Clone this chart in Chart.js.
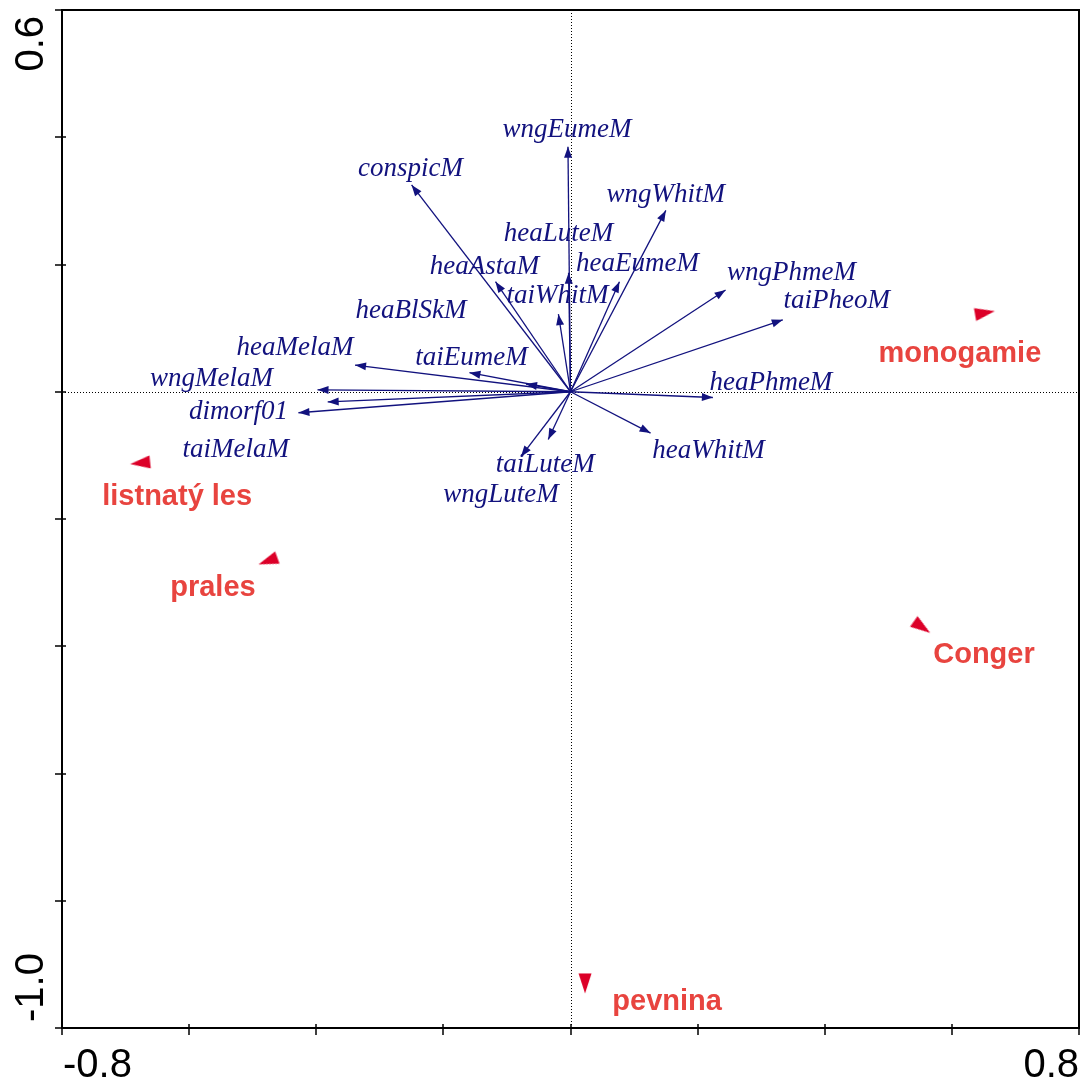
<!DOCTYPE html>
<html>
<head>
<meta charset="utf-8">
<script src="https://cdn.jsdelivr.net/npm/chart.js@4.4.1/dist/chart.umd.min.js"></script>
<style>
  html, body { margin: 0; padding: 0; background: #ffffff; overflow: hidden; }
  #biplot { display: block; }
</style>
</head>
<body>
<canvas id="biplot" width="1083" height="1081"></canvas>
<script>
// Trait vectors (scores on the first and second ordination axes)
const traitNames = ['wngEumeM', 'conspicM', 'heaLuteM', 'heaAstaM', 'taiWhitM', 'heaBlSkM',
  'wngWhitM', 'heaEumeM', 'wngPhmeM', 'taiPheoM', 'heaPhmeM', 'heaWhitM',
  'heaMelaM', 'wngMelaM', 'dimorf01', 'taiMelaM', 'taiEumeM', 'taiLuteM', 'wngLuteM'];
const traitAxis1 = [-0.004, -0.250, -0.003, -0.118, -0.019, -0.070,
  0.150, 0.077, 0.244, 0.334, 0.224, 0.126,
  -0.339, -0.398, -0.428, -0.382, -0.159, -0.035, -0.078];
const traitAxis2 = [0.385, 0.325, 0.187, 0.173, 0.122, 0.012,
  0.285, 0.173, 0.160, 0.113, -0.009, -0.065,
  0.042, 0.003, -0.033, -0.016, 0.030, -0.075, -0.102];

// Centroids of the nominal environmental variables
const classNames = ['listnatý les', 'prales', 'monogamie', 'Conger', 'pevnina'];
const classAxis1 = [-0.677, -0.476, 0.652, 0.553, 0.023];
const classAxis2 = [-0.112, -0.266, 0.124, -0.370, -0.930];

// Axis tick labels
const xTickValues = [-0.8, 0.8];
const xTickLabels = ['-0.8', '0.8'];
const yTickValues = [0.6, -1.0];
const yTickLabels = ['0.6', '-1.0'];

// ---- layout and styling ----
const NAVY = '#12127e';
const RED_TEXT = '#e8443f';
const RED_MARK = '#dc0028';

// label placement relative to each arrow tip (px: dx to text centre, dy to baseline)
const traitLabelOffsets = [
  [-1, -10], [-1, -9], [-10, -32], [-11, -8], [-1, -11], [-115, -66],
  [0, -8], [18, -11], [66, -10], [54, -12], [58, -7], [58, 25],
  [-60, -10], [-106, -4], [-60, 6], [-92, 55], [2, -8], [-3, 33], [-20, 45]
];
// label placement relative to each centroid marker
const classLabelOffsets = [[37, 42], [-55, 35], [-25, 49], [62, 36], [82, 27]];
// direction each centroid triangle points to (degrees, clockwise from up)
const classMarkerRotation = [264, 250, 80, 125, 180];

// elongated triangle used as centroid marker
function makeTriangle() {
  const c = document.createElement('canvas');
  c.width = 14; c.height = 21;
  const g = c.getContext('2d');
  g.fillStyle = RED_MARK;
  g.beginPath();
  g.moveTo(7, 0.5);
  g.lineTo(13.5, 20.5);
  g.lineTo(0.5, 20.5);
  g.closePath();
  g.fill();
  return c;
}
const triangleMarker = makeTriangle();

const datasets = traitNames.map((name, i) => ({
  type: 'scatter',
  label: name,
  data: [{ x: 0, y: 0 }, { x: traitAxis1[i], y: traitAxis2[i] }],
  showLine: true,
  borderColor: NAVY,
  borderWidth: 1.3,
  pointRadius: 0,
  pointHoverRadius: 0,
  fill: false
}));
datasets.push({
  type: 'scatter',
  label: 'centroids',
  data: classNames.map((n, i) => ({ x: classAxis1[i], y: classAxis2[i] })),
  pointStyle: triangleMarker,
  pointRadius: 8,
  rotation: ctx => classMarkerRotation[ctx.dataIndex] || 0,
  showLine: false
});
const centroidIndex = datasets.length - 1;

const biplotPlugin = {
  id: 'biplot',
  beforeDatasetsDraw(chart) {
    const { ctx, chartArea: a, scales: { x, y } } = chart;
    const x0 = Math.round(x.getPixelForValue(0)) + 0.5;
    const y0 = Math.round(y.getPixelForValue(0)) + 0.5;
    ctx.save();
    ctx.strokeStyle = '#000';
    ctx.lineWidth = 1;
    ctx.setLineDash([1, 2]);
    ctx.beginPath();
    ctx.moveTo(x0, a.top); ctx.lineTo(x0, a.bottom);
    ctx.moveTo(a.left, y0); ctx.lineTo(a.right, y0);
    ctx.stroke();
    ctx.restore();
  },
  afterDatasetsDraw(chart) {
    const { ctx, chartArea: a, scales: { x, y } } = chart;
    ctx.save();

    // arrowheads and trait labels
    ctx.fillStyle = NAVY;
    traitNames.forEach((name, i) => {
      const pts = chart.getDatasetMeta(i).data;
      const p0 = pts[0], p1 = pts[1];
      const ang = Math.atan2(p1.y - p0.y, p1.x - p0.x);
      const len = 11, half = 4;
      ctx.beginPath();
      ctx.moveTo(p1.x, p1.y);
      ctx.lineTo(p1.x - len * Math.cos(ang) + half * Math.sin(ang),
                 p1.y - len * Math.sin(ang) - half * Math.cos(ang));
      ctx.lineTo(p1.x - len * Math.cos(ang) - half * Math.sin(ang),
                 p1.y - len * Math.sin(ang) + half * Math.cos(ang));
      ctx.closePath();
      ctx.fill();
    });
    ctx.font = 'italic 27px "Liberation Serif", "Times New Roman", serif';
    ctx.textAlign = 'center';
    ctx.textBaseline = 'alphabetic';
    traitNames.forEach((name, i) => {
      const p1 = chart.getDatasetMeta(i).data[1];
      const off = traitLabelOffsets[i];
      ctx.fillText(name, p1.x + off[0], p1.y + off[1]);
    });

    // centroid labels
    ctx.fillStyle = RED_TEXT;
    ctx.font = 'bold 29px "Liberation Sans", Arial, sans-serif';
    const cpts = chart.getDatasetMeta(centroidIndex).data;
    classNames.forEach((name, i) => {
      const off = classLabelOffsets[i];
      ctx.fillText(name, cpts[i].x + off[0], cpts[i].y + off[1]);
    });

    // frame
    ctx.strokeStyle = '#000';
    ctx.lineWidth = 2;
    ctx.setLineDash([]);
    ctx.strokeRect(a.left, a.top, a.right - a.left, a.bottom - a.top);

    // tick marks crossing the left and bottom axes
    ctx.lineWidth = 1.5;
    ctx.beginPath();
    x.ticks.forEach(t => {
      const px = Math.round(x.getPixelForValue(t.value));
      ctx.moveTo(px, a.bottom - 4); ctx.lineTo(px, a.bottom + 7);
    });
    y.ticks.forEach(t => {
      const py = Math.round(y.getPixelForValue(t.value));
      ctx.moveTo(a.left - 7, py); ctx.lineTo(a.left + 4, py);
    });
    ctx.stroke();

    // tick labels at the axis ends
    ctx.fillStyle = '#000';
    ctx.font = '40px "Liberation Sans", Arial, sans-serif';
    ctx.textBaseline = 'alphabetic';
    xTickValues.forEach((v, i) => {
      const px = x.getPixelForValue(v);
      ctx.textAlign = i === 0 ? 'left' : 'right';
      ctx.fillText(xTickLabels[i], px + (i === 0 ? 1 : 0), a.bottom + 49);
    });
    yTickValues.forEach((v, i) => {
      const py = y.getPixelForValue(v);
      ctx.save();
      ctx.translate(a.left - 19, py + (i === 0 ? 6 : -6));
      ctx.rotate(-Math.PI / 2);
      ctx.textAlign = i === 0 ? 'right' : 'left';
      ctx.fillText(yTickLabels[i], 0, 0);
      ctx.restore();
    });

    ctx.restore();
  }
};

new Chart(document.getElementById('biplot'), {
  type: 'scatter',
  data: { datasets },
  options: {
    responsive: false,
    animation: false,
    devicePixelRatio: 1,
    events: [],
    layout: { autoPadding: false, padding: { left: 62, top: 10, right: 4, bottom: 53 } },
    plugins: { legend: { display: false }, tooltip: { enabled: false } },
    scales: {
      x: { type: 'linear', display: false, min: -0.8, max: 0.8, ticks: { stepSize: 0.2 } },
      y: { type: 'linear', display: false, min: -1.0, max: 0.6, ticks: { stepSize: 0.2 } }
    }
  },
  plugins: [biplotPlugin]
});
</script>
</body>
</html>
